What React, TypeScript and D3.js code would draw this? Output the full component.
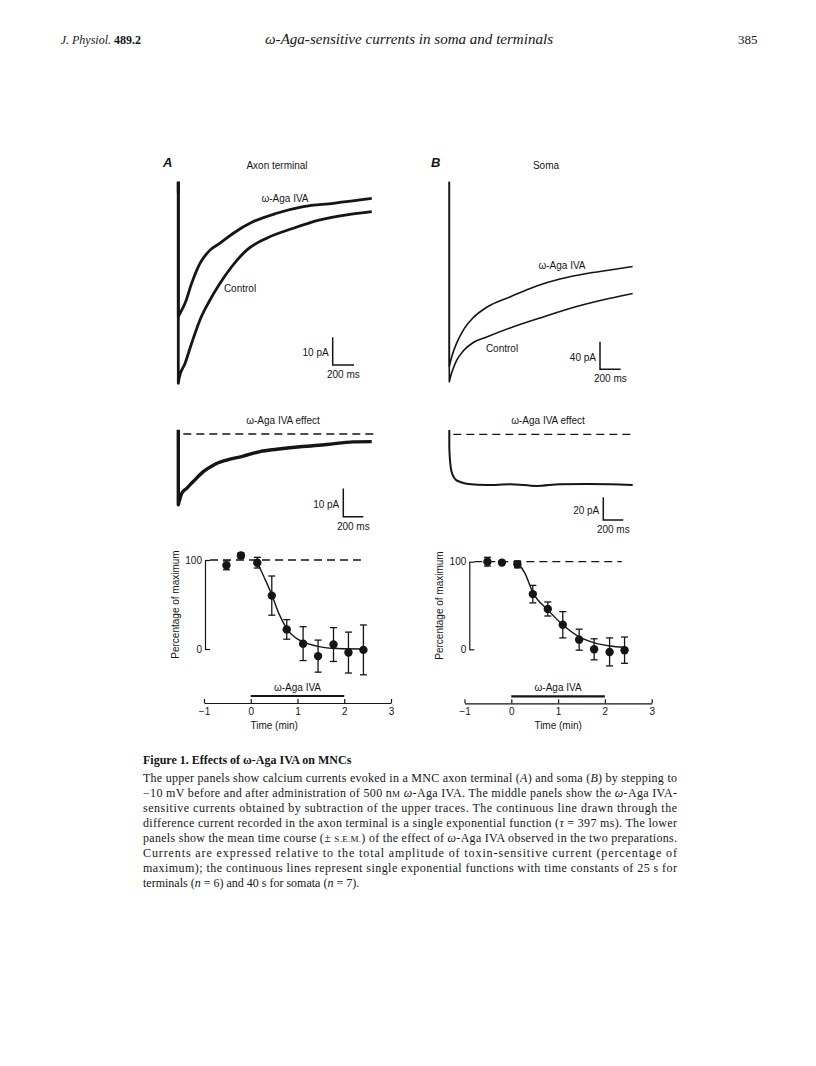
import React, { useEffect, useRef } from 'react';
import * as d3 from 'd3';

type Pt = [number, number];

// ---------- data ----------
// upper traces: [time (ms), current (pA)]
const terminalControl: Pt[] = [[0, 0], [0, -72.8], [7, -71], [63, -65.6], [125, -58.3], [203, -49.9], [297, -42.7], [391, -36.7], [500, -30.7], [641, -24.7], [828, -20.4], [1078, -16.8], [1328, -13.8], [1578, -12], [1813, -10.8]];
const terminalAga: Pt[] = [[0, 0], [0, -48.7], [16, -47.5], [63, -43.9], [125, -36.7], [203, -29.5], [297, -24.7], [391, -22.2], [516, -18.6], [703, -14.4], [922, -11.4], [1172, -9], [1453, -7.8], [1703, -6.6], [1813, -6]];
const somaControl: Pt[] = [[0, 0], [0, -290], [23, -277], [71, -259], [136, -245], [232, -233], [362, -225], [588, -212], [910, -196], [1233, -181], [1556, -169], [1775, -162]];
const somaAga: Pt[] = [[0, 0], [0, -268], [23, -254], [71, -234], [136, -215], [232, -197], [362, -182], [588, -167], [846, -151], [1071, -141], [1330, -133], [1556, -128], [1775, -123]];

// middle traces: difference currents
const terminalEffect: Pt[] = [[0, 1.5], [0, -25], [34, -21], [84, -19.2], [150, -16.8], [250, -13.3], [350, -11], [484, -9.2], [650, -7.8], [817, -6.2], [984, -5.4], [1217, -4.5], [1484, -3.7], [1750, -2.8], [1934, -2.7]];
const somaEffect: Pt[] = [[0, 3.8], [0, -12], [6, -22], [16, -30], [35, -36], [65, -40], [110, -42], [190, -43.8], [377, -44.7], [607, -44], [874, -45.5], [1107, -44], [1374, -43.8], [1607, -44], [1834, -44.7]];

// lower panels: time (min), percentage of maximum, s.e.m.
const terminalTime = [-0.52, -0.21, 0.14, 0.45, 0.77, 1.12, 1.44, 1.77, 2.09, 2.41];
const terminalPct = [94, 105, 97, 60, 22, 6, -8, 5, -4, -1];
const terminalSem = [5, 3, 6, 22, 11, 19, 18, 19, 23, 28];
const terminalFit: Pt[] = [[0.14, 97], [0.3, 79], [0.45, 61], [0.6, 40], [0.77, 23], [0.95, 13], [1.12, 8], [1.43, 3], [1.86, 0.5], [2.39, 0]];

const somaTime = [-0.51, -0.2, 0.13, 0.46, 0.78, 1.1, 1.45, 1.77, 2.1, 2.42];
const somaPct = [100, 99, 97, 63, 46, 28, 11, 0, -3, -1];
const somaSem = [5, 0, 4, 10, 8, 15, 12, 12, 16, 15];
const somaFit: Pt[] = [[0.13, 99], [0.29, 87], [0.46, 65], [0.78, 45], [1.1, 28], [1.44, 14.5], [1.76, 7.6], [2.1, 3.8], [2.42, 2.3]];

const timeTicks = [-1, 0, 1, 2, 3];
const pctTicks = [0, 100];
const toxinOn = [0, 2];

const captionTitle = 'Figure 1. Effects of \u03c9-Aga IVA on MNCs';
// segments: plain string, or [style, text]
type Seg = string | ['i' | 'sc', string];
const captionLines: Seg[][] = [
  ['The upper panels show calcium currents evoked in a MNC axon terminal (', ['i', 'A'], ') and soma (', ['i', 'B'], ') by stepping to'],
  ['\u221210 mV before and after administration of 500 n', ['sc', 'M'], ' ', ['i', '\u03c9'], '-Aga IVA. The middle panels show the ', ['i', '\u03c9'], '-Aga IVA-'],
  ['sensitive currents obtained by subtraction of the upper traces. The continuous line drawn through the'],
  ['difference current recorded in the axon terminal is a single exponential function (', ['i', '\u03c4'], ' = 397 ms). The lower'],
  ['panels show the mean time course (\u00b1 ', ['sc', 'S.E.M.'], ') of the effect of ', ['i', '\u03c9'], '-Aga IVA observed in the two preparations.'],
  ['Currents are expressed relative to the total amplitude of toxin-sensitive current (percentage of'],
  ['maximum); the continuous lines represent single exponential functions with time constants of 25 s for'],
  ['terminals (', ['i', 'n'], ' = 6) and 40 s for somata (', ['i', 'n'], ' = 7).'],
];

// ---------- style ----------
const ink = '#151515';
const sans = "'Liberation Sans', Arial, Helvetica, sans-serif";
const serif = "'Liberation Serif', 'Times New Roman', serif";

// trace panel frames: origin of t=0 / I=0, pixel per unit, scale bar corner
const frames = {
  topA: { x0: 178.3, y0: 181.7, pxMs: 0.1067, pxPA: 2.77, bar: [332.7, 365], barPA: 10 },
  topB: { x0: 449.3, y0: 181.7, pxMs: 0.1033, pxPA: 0.69, bar: [600, 369.3], barPA: 40 },
  midA: { x0: 178.3, y0: 434, pxMs: 0.1, pxPA: 2.83, bar: [343.3, 516.7], barPA: 10 },
  midB: { x0: 449.3, y0: 434.3, pxMs: 0.1, pxPA: 1.135, bar: [603.3, 520], barPA: 20 },
};

function tracePath(data: Pt[], x: d3.ScaleLinear<number, number>, y: d3.ScaleLinear<number, number>) {
  const [p0, ...rest] = data;
  const line = d3.line<Pt>().x(d => x(d[0])).y(d => y(d[1])).curve(d3.curveMonotoneX);
  return `M${x(p0[0])},${y(p0[1])}` + (line(rest) || '').replace(/^M/, 'L');
}

type Frame = typeof frames.topA;

function TracePanel({ frame, traces, zero }: { frame: Frame; traces: { data: Pt[]; w: number }[]; zero?: [number, number] }) {
  const x = d3.scaleLinear().domain([0, 1000]).range([frame.x0, frame.x0 + 1000 * frame.pxMs]);
  const y = d3.scaleLinear().domain([0, -100]).range([frame.y0, frame.y0 + 100 * frame.pxPA]);
  const [bx, by] = frame.bar;
  const hLen = x(200) - x(0);
  const vLen = y(-frame.barPA) - y(0);
  return (
    <g>
      {zero && (
        <line x1={x(zero[0])} x2={x(zero[1])} y1={y(0)} y2={y(0)} stroke={ink} strokeWidth={1.3} strokeDasharray="8,5" />
      )}
      {traces.map((t, i) => (
        <path key={i} d={tracePath(t.data, x, y)} fill="none" stroke={ink} strokeWidth={t.w} strokeLinejoin="round" />
      ))}
      <path d={`M${bx},${by - vLen}V${by}H${bx + hLen}`} fill="none" stroke={ink} strokeWidth={1.5} />
      <text x={bx - 4} y={by - vLen / 2 + 5} textAnchor="end" fontSize={10} fontFamily={sans} fill={ink}>{`${frame.barPA} pA`}</text>
      <text x={bx + hLen / 2} y={by + 13} textAnchor="middle" fontSize={10} fontFamily={sans} fill={ink}>200 ms</text>
    </g>
  );
}

function Axis({ scale, kind, transform, ticks }: { scale: d3.ScaleLinear<number, number>; kind: 'bottom' | 'left'; transform: string; ticks: number[] }) {
  const ref = useRef<SVGGElement>(null);
  useEffect(() => {
    const axis = kind === 'bottom' ? d3.axisBottom(scale) : d3.axisLeft(scale);
    axis.tickValues(ticks).tickFormat(d3.format('d') as any)
      .tickSizeInner(kind === 'bottom' ? -4 : -5).tickSizeOuter(0).tickPadding(kind === 'bottom' ? 5 : 3);
    const g = d3.select(ref.current!);
    g.call(axis as any);
    g.attr('font-family', sans).attr('font-size', 10);
    g.selectAll('text').attr('fill', ink);
    g.selectAll('line').attr('stroke', ink).attr('stroke-width', 1.2);
    g.select('.domain').attr('stroke', ink).attr('stroke-width', 1.2);
  }, [scale, kind, ticks]);
  return <g ref={ref} transform={transform} />;
}

type TC = {
  left: number; right: number; yAxisX: number; top: number; bottom: number; axisY: number;
  time: number[]; pct: number[]; sem: number[]; fit: Pt[]; labelAt: number;
};

function TimeCourse(p: TC) {
  const x = d3.scaleLinear().domain([-1, 3]).range([p.left, p.right]);
  const y = d3.scaleLinear().domain([0, 100]).range([p.bottom, p.top]);
  const line = d3.line<Pt>().x(d => x(d[0])).y(d => y(d[1])).curve(d3.curveMonotoneX);
  const barY = p.axisY - 7;
  return (
    <g>
      <line x1={p.yAxisX + 5} x2={x(2.36)} y1={y(100)} y2={y(100)} stroke={ink} strokeWidth={1.3} strokeDasharray="8,5" />
      <path d={line(p.fit) || ''} fill="none" stroke={ink} strokeWidth={1.4} />
      {p.time.map((t, i) => (
        <g key={i}>
          {p.sem[i] > 0 && (
            <g stroke={ink} strokeWidth={1.3}>
              <line x1={x(t)} x2={x(t)} y1={y(p.pct[i] - p.sem[i])} y2={y(p.pct[i] + p.sem[i])} />
              <line x1={x(t) - 3.5} x2={x(t) + 3.5} y1={y(p.pct[i] + p.sem[i])} y2={y(p.pct[i] + p.sem[i])} />
              <line x1={x(t) - 3.5} x2={x(t) + 3.5} y1={y(p.pct[i] - p.sem[i])} y2={y(p.pct[i] - p.sem[i])} />
            </g>
          )}
          <circle cx={x(t)} cy={y(p.pct[i])} r={4.2} fill={ink} />
        </g>
      ))}
      <Axis scale={y} kind="left" transform={`translate(${p.yAxisX},0)`} ticks={pctTicks} />
      <Axis scale={x} kind="bottom" transform={`translate(0,${p.axisY})`} ticks={timeTicks} />
      <line x1={x(toxinOn[0])} x2={x(toxinOn[1])} y1={barY} y2={barY} stroke={ink} strokeWidth={2.2} />
      <text x={x(1)} y={barY - 5} textAnchor="middle" fontSize={10} fontFamily={sans} fill={ink}>{'\u03c9-Aga IVA'}</text>
      <text x={x(p.labelAt)} y={p.axisY + 26} textAnchor="middle" fontSize={10} fontFamily={sans} fill={ink}>Time (min)</text>
      <text transform={`translate(${p.yAxisX - 26},${y(50)}) rotate(-90)`} textAnchor="middle" fontSize={10} fontFamily={sans} fill={ink}>Percentage of maximum</text>
    </g>
  );
}

function segs(line: Seg[]) {
  return line.map((s, i) => {
    if (typeof s === 'string') return <tspan key={i}>{s}</tspan>;
    if (s[0] === 'i') return <tspan key={i} fontStyle="italic">{s[1]}</tspan>;
    return <tspan key={i} fontSize={9}>{s[1]}</tspan>;
  });
}

export default function App() {
  const lab = { fontFamily: sans, fontSize: 10, fill: ink };
  return (
    <svg width={816} height={1066} style={{ position: 'absolute', left: 0, top: 0, background: '#fff' }}>
      <rect width={816} height={1066} fill="#fff" />
      {/* running header */}
      <text x={60.7} y={44} fontFamily={serif} fontSize={12} fill={ink}>
        <tspan fontStyle="italic">J. Physiol.</tspan>
        <tspan fontWeight="bold"> 489.2</tspan>
      </text>
      <text x={265} y={44} fontFamily={serif} fontSize={14} fontStyle="italic" fill={ink} textLength={288} lengthAdjust="spacingAndGlyphs">
        {'\u03c9-Aga-sensitive currents in soma and terminals'}
      </text>
      <text x={738} y={44} fontFamily={serif} fontSize={13} fill={ink}>385</text>

      {/* panel titles */}
      <text x={163} y={167} fontFamily={sans} fontSize={13} fontWeight="bold" fontStyle="italic" fill={ink}>A</text>
      <text x={277} y={169} textAnchor="middle" {...lab}>Axon terminal</text>
      <text x={431} y={167} fontFamily={sans} fontSize={13} fontWeight="bold" fontStyle="italic" fill={ink}>B</text>
      <text x={546} y={169} textAnchor="middle" {...lab}>Soma</text>

      {/* upper traces */}
      <TracePanel frame={frames.topA} traces={[{ data: terminalControl, w: 2.8 }, { data: terminalAga, w: 2.8 }]} />
      <line x1={178.3} x2={178.3} y1={181.7} y2={193} stroke={ink} strokeWidth={3} />
      <text x={285} y={202} textAnchor="middle" {...lab}>{'\u03c9-Aga IVA'}</text>
      <text x={240} y={292} textAnchor="middle" {...lab}>Control</text>

      <TracePanel frame={frames.topB} traces={[{ data: somaControl, w: 1.6 }, { data: somaAga, w: 1.6 }]} />
      <text x={562} y={268.5} textAnchor="middle" {...lab}>{'\u03c9-Aga IVA'}</text>
      <text x={502} y={352} textAnchor="middle" {...lab}>Control</text>

      {/* difference currents */}
      <TracePanel frame={frames.midA} traces={[{ data: terminalEffect, w: 3.4 }]} zero={[50, 1950]} />
      <text x={283} y={424} textAnchor="middle" {...lab}>{'\u03c9-Aga IVA effect'}</text>
      <TracePanel frame={frames.midB} traces={[{ data: somaEffect, w: 2 }]} zero={[40, 1834]} />
      <text x={548} y={424} textAnchor="middle" {...lab}>{'\u03c9-Aga IVA effect'}</text>

      {/* time course */}
      <TimeCourse left={204} right={391} yAxisX={205} top={560} bottom={649} axisY={703}
        time={terminalTime} pct={terminalPct} sem={terminalSem} fit={terminalFit} labelAt={0.5} />
      <TimeCourse left={464.5} right={651.7} yAxisX={469.3} top={561.7} bottom={649.3} axisY={703.3}
        time={somaTime} pct={somaPct} sem={somaSem} fit={somaFit} labelAt={1} />

      {/* legend */}
      <text x={143} y={764} fontFamily={serif} fontSize={12} fontWeight="bold" fill={ink}>{captionTitle}</text>
      {captionLines.map((l, i) => (
        <text key={i} x={143} y={782 + i * 15} fontFamily={serif} fontSize={12} fill={ink}
          {...(i < captionLines.length - 1 ? { textLength: 534, lengthAdjust: 'spacing' } : {})}>
          {segs(l)}
        </text>
      ))}
    </svg>
  );
}
